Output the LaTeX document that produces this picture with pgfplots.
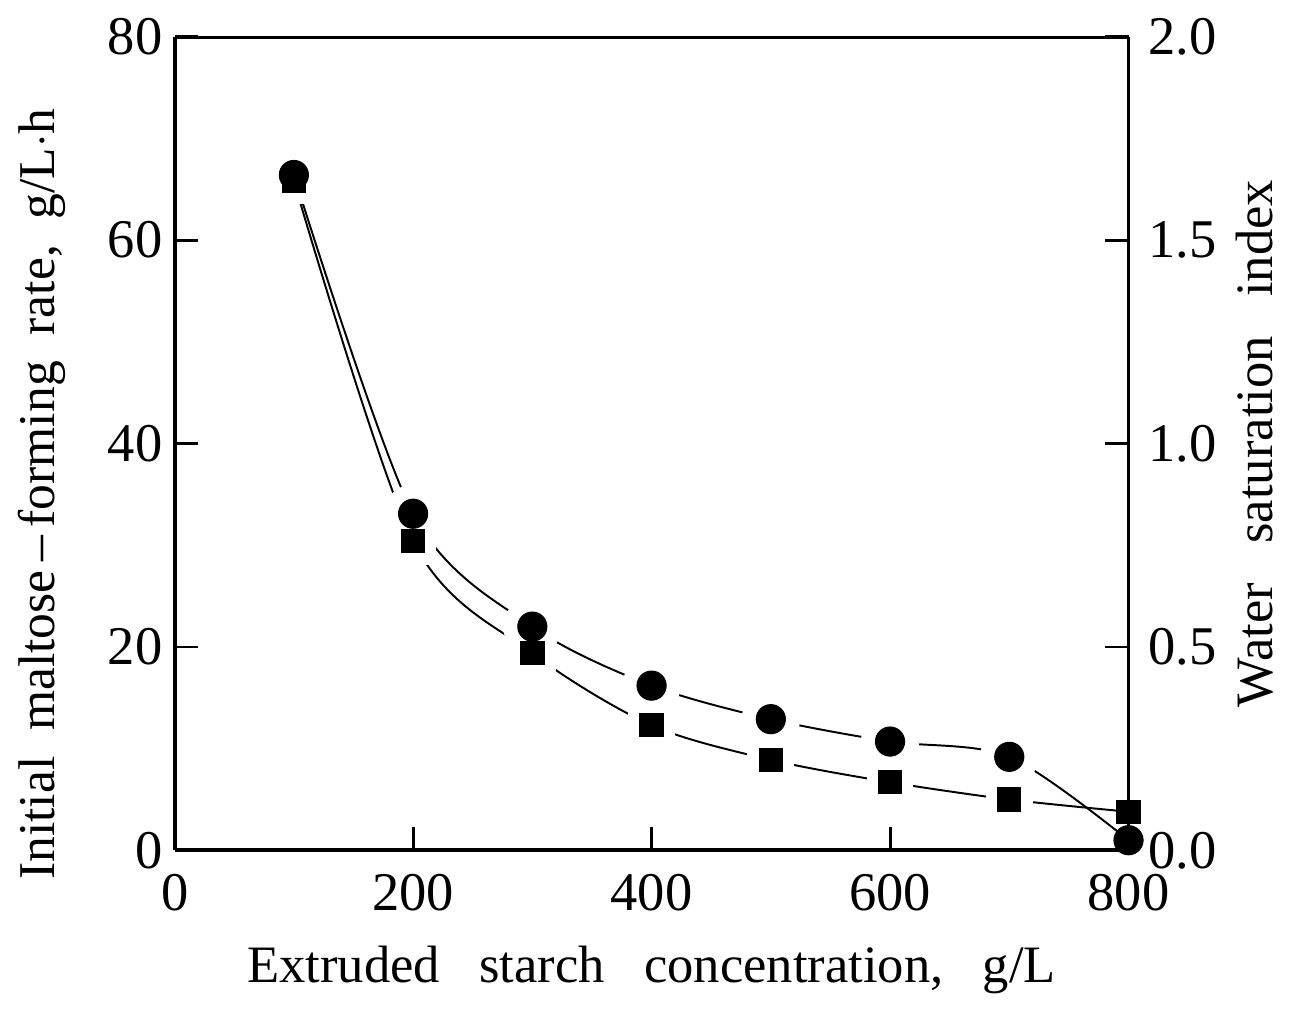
\documentclass[border=0pt]{standalone}
\usepackage{pgfplots}
\pgfplotsset{compat=1.18}
\usepackage{fontspec}
\setmainfont{Liberation Serif}
\begin{document}
\fontsize{28}{33}\selectfont
\begin{tikzpicture}
\pgfplotsset{
  common/.style={
    width=490pt, height=418pt, scale only axis,
    xmin=0, xmax=800,
    tick align=inside,
    major tick length=12pt,
    every axis/.append style={line width=2pt},
    /pgf/number format/assume math mode=true,
    tick label style={font=\fontsize{28}{33}\selectfont},
    label style={font=\fontsize{27}{32}\selectfont},
    tick style={line width=1.5pt, black},
  }
}
\begin{axis}[common,
  ymin=0, ymax=80,
  ytick={0,20,40,60,80},
  xtick={0,200,400,600,800},
  axis y line*=left, axis x line*=bottom,
  xlabel={Extruded\ \ \ starch\ \ \ concentration,\ \ \ g/L},
  ylabel={Initial\ \ maltose\,--\,forming\ \ rate,\ \ g/L$\cdot$h},
  xlabel style={yshift=2pt},
  ylabel style={yshift=2pt, xshift=-26pt, font=\fontsize{26.5}{32}\selectfont},
  yticklabel style={xshift=4pt},
  xticklabel style={yshift=-2pt},
]
\addplot[black, line width=1pt, smooth, tension=0.5] coordinates {
 (100,66.4) (200,33.1) (300,22.0) (400,16.2) (500,12.9) (600,10.7) (700,9.2) (800,1.0)};
\addplot[black, line width=1pt, smooth, tension=0.5] coordinates {
 (100,65.8) (200,30.4) (300,19.4) (400,12.3) (500,8.9) (600,6.7) (700,5.0) (800,3.8)};
% white halos for gaps
\addplot[only marks, mark=*, mark size=14pt, white, mark options={draw=white, fill=white}] coordinates {
 (100,66.4) (200,33.1) (300,22.0) (400,16.2) (500,12.9) (600,10.7) (700,9.2)};
\addplot[only marks, mark=square*, mark size=11pt, white, mark options={draw=white, fill=white}] coordinates {
 (100,65.8) (200,30.4) (300,19.4) (400,12.3) (500,8.9) (600,6.7) (700,5.0)};
\addplot[only marks, mark=*, mark size=7.5pt, black, mark options={line width=0.5pt}] coordinates {
 (100,66.4) (200,33.1) (300,22.0) (400,16.2) (500,12.9) (600,10.7) (700,9.2) (800,1.0)};
\addplot[only marks, mark=square*, mark size=6pt, black, mark options={line width=0.5pt}] coordinates {
 (100,65.8) (200,30.4) (300,19.4) (400,12.3) (500,8.9) (600,6.7) (700,5.0) (800,3.8)};
\draw[line width=2pt] (rel axis cs:0,1) -- (rel axis cs:1,1);
\end{axis}
\begin{axis}[common,
  ymin=0, ymax=2,
  ytick={0,0.5,1,1.5,2},
  yticklabel style={/pgf/number format/.cd, fixed, fixed zerofill, precision=1},
  axis y line*=right, axis x line=none,
  ylabel={Water\ \ \ saturation\ \ \ index},
  ylabel shift=-10pt,
]
\end{axis}
\end{tikzpicture}
\end{document}
